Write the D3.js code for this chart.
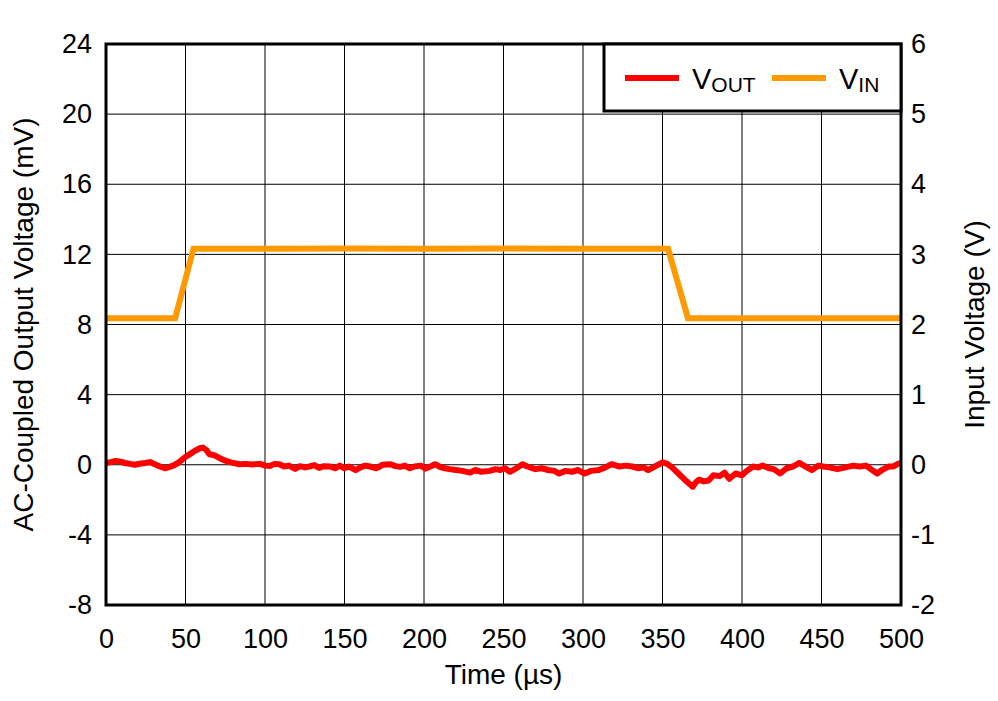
<!DOCTYPE html>
<html>
<head>
<meta charset="utf-8">
<script src="https://cdn.jsdelivr.net/npm/d3@7"></script>
<style>
  body { margin: 0; background: #fff; }
  text { font-family: "Liberation Sans", Arial, sans-serif; fill: #000; }
</style>
</head>
<body>
<div id="chart"></div>
<script>
// Chart data
var xTicks = [0, 50, 100, 150, 200, 250, 300, 350, 400, 450, 500];
var yLeftTicks = [-8, -4, 0, 4, 8, 12, 16, 20, 24];
var yRightTicks = [-2, -1, 0, 1, 2, 3, 4, 5, 6];

// VOUT (mV)
var voutTime = [0, 3, 6, 9, 12, 15, 18, 21, 24.5, 27.7, 31, 34, 37, 40, 43, 46, 49.7, 53, 56, 59, 61, 63, 65, 68, 71, 75, 79, 84, 88, 92, 97,
  100, 103, 106, 109, 112, 115, 119, 122, 125, 128, 131, 134, 137, 141, 144, 147, 150, 153, 157, 160, 163, 166, 170, 174, 179, 182, 185, 188,
  191, 194, 198, 201, 204, 207, 210, 213, 216, 220, 224, 229, 232, 236, 241.5, 245, 248, 251, 254, 258, 262, 265, 270, 274, 278, 282, 285,
  289, 293, 297, 301, 305, 310, 314, 318, 321, 323, 327, 331, 335, 338, 341, 345, 350, 353, 356, 360, 364, 369, 371, 373, 376, 379, 382, 386,
  389, 392, 396, 400, 403, 407, 410, 413, 417, 420, 424, 428, 432, 436, 440, 444, 448, 451, 455, 460, 465, 470, 474, 478, 481, 485, 488, 492,
  495, 498, 500];
var voutValue = [0.1, 0.15, 0.22, 0.18, 0.1, 0.05, 0.0, 0.06, 0.1, 0.15, 0.02, -0.1, -0.2, -0.12, -0.02, 0.15, 0.43, 0.62, 0.8, 0.94, 0.98, 0.85,
  0.6, 0.55, 0.4, 0.23, 0.12, 0.03, 0.05, 0.02, 0.05, -0.05, -0.07, 0.05, 0.03, -0.1, -0.05, -0.24, -0.08, -0.15, -0.1, -0.02, -0.18, -0.08,
  -0.1, -0.2, -0.05, -0.2, -0.1, -0.3, -0.15, -0.05, -0.1, -0.2, 0.0, 0.03, -0.08, -0.12, -0.05, -0.2, -0.1, -0.05, -0.22, -0.1, 0.03, -0.12,
  -0.2, -0.25, -0.3, -0.35, -0.45, -0.3, -0.4, -0.35, -0.25, -0.3, -0.2, -0.4, -0.2, 0.03, -0.1, -0.25, -0.2, -0.3, -0.35, -0.5, -0.35, -0.4,
  -0.3, -0.5, -0.35, -0.3, -0.15, 0.03, -0.05, -0.1, -0.05, -0.1, -0.2, -0.15, -0.3, -0.1, 0.14, 0.05, -0.15, -0.5, -0.85, -1.25, -1.0, -0.85,
  -0.95, -0.9, -0.6, -0.65, -0.45, -0.8, -0.5, -0.6, -0.35, -0.1, -0.15, -0.05, -0.2, -0.25, -0.5, -0.2, -0.1, 0.1, -0.1, -0.3, -0.05, -0.1,
  -0.15, -0.25, -0.15, -0.05, -0.1, -0.05, -0.25, -0.5, -0.3, -0.1, -0.1, 0.05, 0.1];

// VIN (V)
var vinTime = [0, 43.5, 55, 100, 150, 200, 250, 300, 353.5, 366, 420, 500];
var vinValue = [2.09, 2.09, 3.08, 3.08, 3.085, 3.08, 3.085, 3.08, 3.08, 2.09, 2.09, 2.09];

var svgWidth = 998;
var svgHeight = 701;
var margin = { top: 44, right: 97, bottom: 96, left: 106 };
var chartWidth = svgWidth - margin.left - margin.right;
var chartHeight = svgHeight - margin.top - margin.bottom;

var svg = d3.select("#chart")
  .append("svg")
  .attr("width", svgWidth)
  .attr("height", svgHeight);

var chartGroup = svg.append("g")
  .attr("transform", `translate(${margin.left}, ${margin.top})`);

var xScale = d3.scaleLinear().domain([0, 500]).range([0, chartWidth]);
var yLeft = d3.scaleLinear().domain([-8, 24]).range([chartHeight, 0]);
var yRight = d3.scaleLinear().domain([-2, 6]).range([chartHeight, 0]);

// Grid
chartGroup.selectAll(".vgrid")
  .data(xTicks)
  .enter()
  .append("line")
  .attr("x1", d => xScale(d)).attr("x2", d => xScale(d))
  .attr("y1", 0).attr("y2", chartHeight)
  .attr("stroke", "#000").attr("stroke-width", 1);

chartGroup.selectAll(".hgrid")
  .data(yLeftTicks)
  .enter()
  .append("line")
  .attr("x1", 0).attr("x2", chartWidth)
  .attr("y1", d => yLeft(d)).attr("y2", d => yLeft(d))
  .attr("stroke", "#000").attr("stroke-width", 1);

// Axes (plain hyphen for negatives, as in the original)
var plain = d => String(d);
var bottomAxis = d3.axisBottom(xScale).tickValues(xTicks).tickFormat(plain).tickSize(0).tickPadding(24);
var leftAxis = d3.axisLeft(yLeft).tickValues(yLeftTicks).tickFormat(plain).tickSize(0).tickPadding(14);
var rightAxis = d3.axisRight(yRight).tickValues(yRightTicks).tickFormat(plain).tickSize(0).tickPadding(10);

function styleAxis(g) {
  g.select(".domain").remove();
  g.selectAll("text")
    .style("font-size", "27px")
    .style("font-family", "Liberation Sans, Arial, sans-serif")
    .attr("fill", "#000");
}

chartGroup.append("g")
  .attr("transform", `translate(0, ${chartHeight})`)
  .call(bottomAxis)
  .call(styleAxis);

chartGroup.append("g")
  .call(leftAxis)
  .call(styleAxis);

chartGroup.append("g")
  .attr("transform", `translate(${chartWidth}, 0)`)
  .call(rightAxis)
  .call(styleAxis);

// Lines
var vinLine = d3.line()
  .x((d, i) => xScale(vinTime[i]))
  .y(d => yRight(d));

var voutLine = d3.line()
  .x((d, i) => xScale(voutTime[i]))
  .y(d => yLeft(d));

chartGroup.append("path")
  .datum(vinValue)
  .attr("d", vinLine)
  .attr("fill", "none")
  .attr("stroke", "#FF9900")
  .attr("stroke-width", 6);

chartGroup.append("path")
  .datum(voutValue)
  .attr("d", voutLine)
  .attr("fill", "none")
  .attr("stroke", "#FF0000")
  .attr("stroke-width", 6)
  .attr("stroke-linejoin", "round");

// Frame
chartGroup.append("rect")
  .attr("x", 0).attr("y", 0)
  .attr("width", chartWidth).attr("height", chartHeight)
  .attr("fill", "none")
  .attr("stroke", "#000")
  .attr("stroke-width", 3);

// Legend
var legend = chartGroup.append("g")
  .attr("transform", `translate(${chartWidth - 297}, 0)`);

legend.append("rect")
  .attr("x", 0).attr("y", 0)
  .attr("width", 297).attr("height", 67)
  .attr("fill", "#fff")
  .attr("stroke", "#000")
  .attr("stroke-width", 3);

legend.append("line")
  .attr("x1", 21).attr("x2", 75).attr("y1", 34).attr("y2", 34)
  .attr("stroke", "#FF0000").attr("stroke-width", 6);

var t1 = legend.append("text").attr("x", 88).attr("y", 45).style("font-size", "29px");
t1.append("tspan").text("V");
t1.append("tspan").attr("dy", 3).style("font-size", "21px").text("OUT");

legend.append("line")
  .attr("x1", 168).attr("x2", 222).attr("y1", 34).attr("y2", 34)
  .attr("stroke", "#FF9900").attr("stroke-width", 6);

var t2 = legend.append("text").attr("x", 235).attr("y", 45).style("font-size", "29px");
t2.append("tspan").text("V");
t2.append("tspan").attr("dy", 3).style("font-size", "21px").text("IN");

// Axis titles
svg.append("text")
  .attr("x", margin.left + chartWidth / 2)
  .attr("y", 684)
  .attr("text-anchor", "middle")
  .style("font-size", "28px")
  .text("Time (\u00B5s)");

svg.append("text")
  .attr("transform", `translate(33, ${margin.top + chartHeight / 2}) rotate(-90)`)
  .attr("text-anchor", "middle")
  .style("font-size", "28px")
  .text("AC-Coupled Output Voltage (mV)");

svg.append("text")
  .attr("transform", `translate(984, ${margin.top + chartHeight / 2}) rotate(-90)`)
  .attr("text-anchor", "middle")
  .style("font-size", "28px")
  .text("Input Voltage (V)");
</script>
</body>
</html>
